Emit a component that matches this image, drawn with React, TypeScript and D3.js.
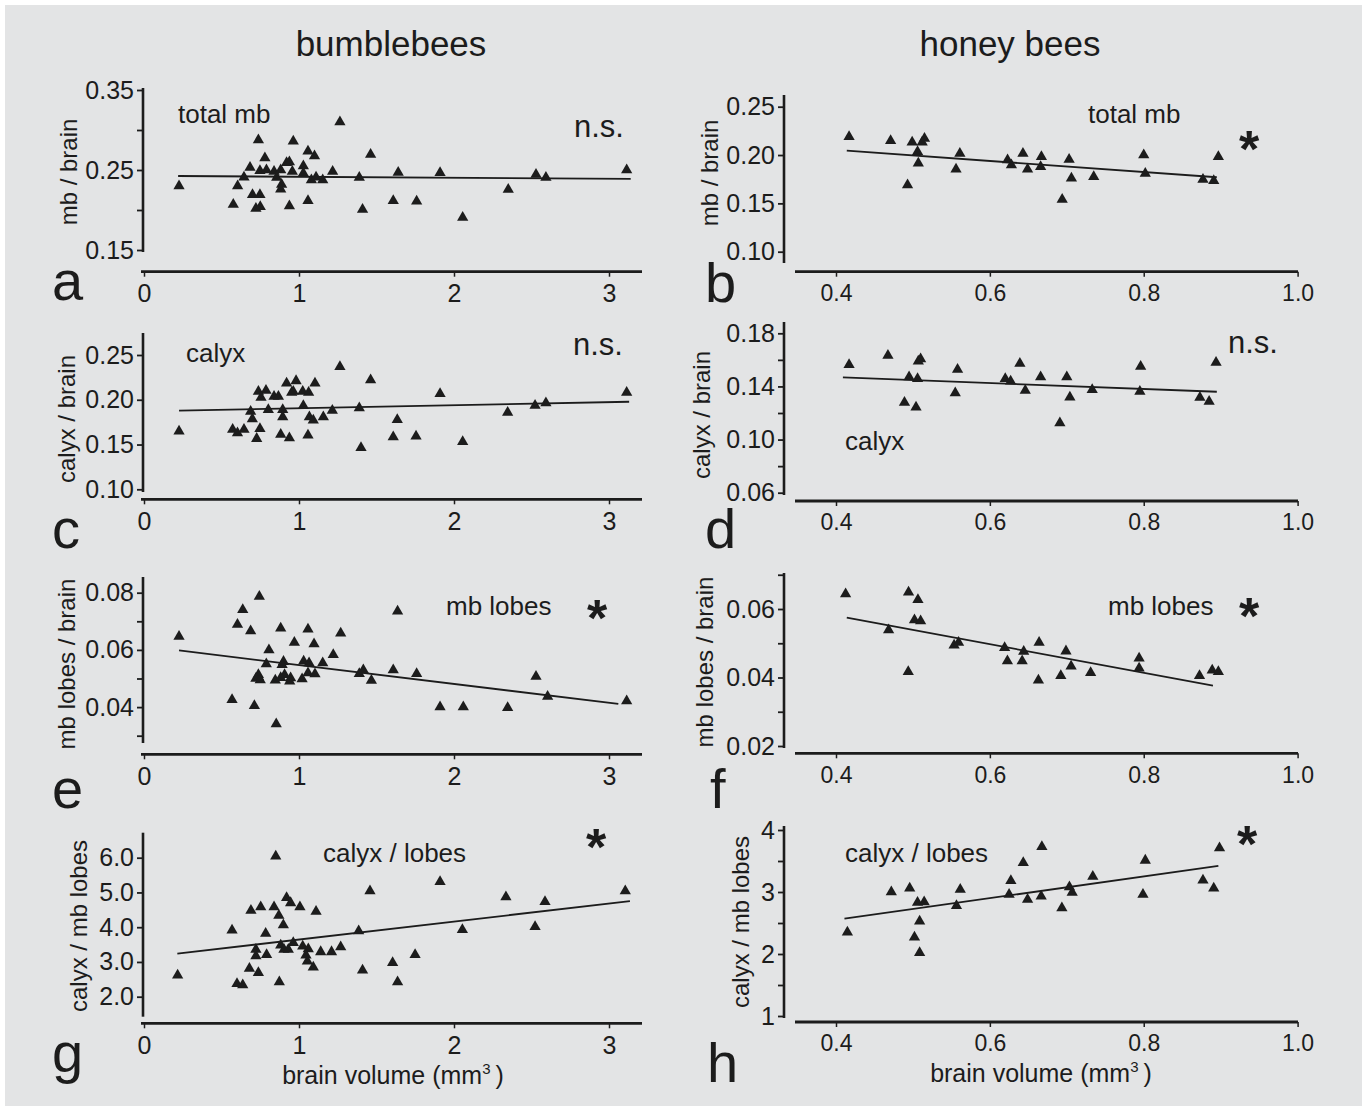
import { useEffect, useRef } from 'react';
import * as d3 from 'd3';

const W = 1367;
const H = 1111;
const BG = '#e3e4e5';
const INK = '#1c1c1c';
const FONT = '"Liberation Sans", Arial, Helvetica, sans-serif';

// bumblebees: [brain volume (mm3), ratio]
const bbTotalMb = [
    [0.226, 0.23], [0.576, 0.207], [0.604, 0.23], [0.645, 0.241], [0.684, 0.253], [0.738, 0.2875],
    [0.78, 0.265], [0.748, 0.249], [0.79, 0.25], [0.7, 0.219], [0.748, 0.219], [0.722, 0.202],
    [0.75, 0.204], [0.839, 0.248], [0.856, 0.2405], [0.882, 0.25], [0.888, 0.232], [0.882, 0.226],
    [0.92, 0.259], [0.938, 0.26], [0.957, 0.248], [0.963, 0.286], [0.938, 0.205], [1.028, 0.255],
    [1.028, 0.246], [1.058, 0.2735], [1.1, 0.2675], [1.08, 0.2375], [1.11, 0.241], [1.153, 0.2375],
    [1.058, 0.2115], [1.217, 0.248], [1.264, 0.31], [1.389, 0.2405], [1.41, 0.2005], [1.462, 0.2695],
    [1.608, 0.2115], [1.64, 0.247], [1.759, 0.211], [1.91, 0.2465], [2.056, 0.1905], [2.35, 0.2255],
    [2.529, 0.2445], [2.593, 0.2405], [3.114, 0.25]
];
const bbCalyx = [
    [0.226, 0.1648], [0.572, 0.1667], [0.603, 0.163], [0.645, 0.1667], [0.688, 0.187], [0.699, 0.1785],
    [0.748, 0.1677], [0.727, 0.1566], [0.738, 0.2092], [0.787, 0.2103], [0.755, 0.2026], [0.802, 0.1889],
    [0.839, 0.2037], [0.867, 0.2037], [0.882, 0.1611], [0.895, 0.1889], [0.895, 0.1807], [0.92, 0.2185],
    [0.938, 0.1574], [0.953, 0.2081], [0.981, 0.2211], [0.963, 0.2092], [1.024, 0.2092], [1.028, 0.1933],
    [1.062, 0.2081], [1.103, 0.2185], [1.067, 0.1807], [1.092, 0.177], [1.058, 0.1604], [1.157, 0.1807],
    [1.215, 0.1881], [1.264, 0.237], [1.389, 0.1907], [1.4, 0.1463], [1.462, 0.2222], [1.608, 0.1585],
    [1.634, 0.1778], [1.755, 0.1593], [1.91, 0.2066], [2.056, 0.153], [2.346, 0.1859], [2.523, 0.1937],
    [2.593, 0.1963], [3.114, 0.2081]
];
const bbLobes = [
    [0.226, 0.0647], [0.568, 0.0426], [0.603, 0.0689], [0.637, 0.074], [0.688, 0.0666], [0.744, 0.0787],
    [0.712, 0.0405], [0.738, 0.0513], [0.738, 0.0506], [0.722, 0.05], [0.75, 0.0495], [0.789, 0.0551],
    [0.806, 0.06], [0.847, 0.0494], [0.853, 0.0341], [0.882, 0.0676], [0.9, 0.0559], [0.891, 0.0548],
    [0.907, 0.0513], [0.882, 0.0503], [0.946, 0.0502], [0.94, 0.049], [0.97, 0.0626], [1.02, 0.0498],
    [1.03, 0.056], [1.065, 0.0554], [1.058, 0.0672], [1.097, 0.0621], [1.058, 0.0519], [1.103, 0.0516],
    [1.153, 0.0554], [1.221, 0.0583], [1.269, 0.0658], [1.389, 0.0517], [1.415, 0.053], [1.467, 0.0493],
    [1.608, 0.053], [1.636, 0.0735], [1.759, 0.0517], [1.91, 0.04], [2.06, 0.04], [2.346, 0.0398],
    [2.529, 0.0507], [2.604, 0.0437], [3.114, 0.0421]
];
const bbCalyxLobes = [
    [0.217, 2.62], [0.568, 3.91], [0.6, 2.37], [0.637, 2.34], [0.68, 2.81], [0.69, 4.48],
    [0.722, 3.36], [0.722, 3.17], [0.738, 2.69], [0.753, 4.58], [0.785, 3.82], [0.791, 3.21],
    [0.839, 4.58], [0.85, 6.04], [0.87, 4.34], [0.873, 2.42], [0.899, 4.06], [0.882, 3.48],
    [0.903, 3.36], [0.931, 3.36], [0.92, 4.85], [0.946, 4.7], [0.963, 3.55], [1.006, 4.58],
    [1.024, 3.45], [1.06, 3.37], [1.045, 3.19], [1.054, 3.02], [1.092, 2.85], [1.11, 4.45],
    [1.14, 3.29], [1.21, 3.29], [1.269, 3.43], [1.385, 3.89], [1.41, 2.76], [1.458, 5.04],
    [1.604, 2.98], [1.636, 2.42], [1.749, 3.21], [1.91, 5.31], [2.054, 3.93], [2.335, 4.87],
    [2.523, 4.01], [2.587, 4.73], [3.105, 5.04]
];

// honey bees: [brain volume (mm3), ratio]
const hbTotalMb = [
    [0.417, 0.219], [0.471, 0.2148], [0.493, 0.169], [0.499, 0.2132], [0.506, 0.2034], [0.507, 0.1914],
    [0.512, 0.2132], [0.515, 0.217], [0.556, 0.1852], [0.561, 0.2017], [0.623, 0.1948], [0.628, 0.1896],
    [0.643, 0.2017], [0.649, 0.1852], [0.667, 0.1983], [0.666, 0.1879], [0.694, 0.1541], [0.703, 0.1955],
    [0.706, 0.1759], [0.735, 0.1776], [0.8, 0.2], [0.802, 0.181], [0.877, 0.1748], [0.891, 0.1735],
    [0.897, 0.1983]
];
const hbCalyx = [
    [0.417, 0.1564], [0.4675, 0.1632], [0.489, 0.1279], [0.495, 0.1471], [0.504, 0.1244], [0.506, 0.1457],
    [0.507, 0.1589], [0.51, 0.1607], [0.555, 0.135], [0.558, 0.1527], [0.62, 0.1457], [0.627, 0.1439],
    [0.639, 0.1572], [0.646, 0.137], [0.666, 0.1471], [0.7, 0.1471], [0.704, 0.1319], [0.691, 0.1124],
    [0.733, 0.1375], [0.796, 0.155], [0.795, 0.1362], [0.873, 0.1317], [0.885, 0.1287], [0.894, 0.1581]
];
const hbLobes = [
    [0.4125, 0.0644], [0.4684, 0.0539], [0.4943, 0.0649], [0.5065, 0.0627], [0.4939, 0.0417], [0.502, 0.0568],
    [0.51, 0.0565], [0.5535, 0.0494], [0.5593, 0.0502], [0.6192, 0.0487], [0.6228, 0.0448], [0.642, 0.0448],
    [0.644, 0.0476], [0.664, 0.0502], [0.6631, 0.0392], [0.6922, 0.0405], [0.6989, 0.0477], [0.7056, 0.0433],
    [0.731, 0.0414], [0.794, 0.0456], [0.794, 0.0427], [0.8725, 0.0405], [0.889, 0.0421], [0.897, 0.0417]
];
const hbCalyxLobes = [
    [0.4148, 2.35], [0.4719, 3.0], [0.4958, 3.06], [0.506, 2.83], [0.5146, 2.84], [0.5087, 2.53],
    [0.502, 2.27], [0.5087, 2.02], [0.5566, 2.78], [0.5615, 3.04], [0.625, 2.96], [0.6273, 3.18],
    [0.6434, 3.47], [0.649, 2.88], [0.6667, 2.93], [0.6676, 3.73], [0.6936, 2.74], [0.7034, 3.08],
    [0.707, 2.99], [0.7338, 3.25], [0.802, 3.51], [0.799, 2.96], [0.877, 3.19], [0.891, 3.06],
    [0.8985, 3.71]
];

// regression lines as drawn: [start, end]
const bbTotalMbFit = [[0.22, 0.2425], [3.14, 0.2388]];
const bbCalyxFit = [[0.226, 0.1878], [3.13, 0.1978]];
const bbLobesFit = [[0.226, 0.0598], [3.06, 0.0411]];
const bbCalyxLobesFit = [[0.215, 3.24], [3.135, 4.75]];
const hbTotalMbFit = [[0.414, 0.2045], [0.895, 0.177]];
const hbCalyxFit = [[0.409, 0.1468], [0.895, 0.136]];
const hbLobesFit = [[0.414, 0.0575], [0.89, 0.0376]];
const hbCalyxLobesFit = [[0.411, 2.57], [0.897, 3.42]];

// tick values
const bbXTicks = [0, 1, 2, 3];
const hbXTicks = [0.4, 0.6, 0.8, 1.0];
const aTicks = [0.35, 0.3, 0.25, 0.2, 0.15];
const aLabels = [0.35, 0.25, 0.15];
const cTicks = [0.25, 0.2, 0.15, 0.1];
const eTicks = [0.08, 0.07, 0.06, 0.05, 0.04, 0.03];
const eLabels = [0.08, 0.06, 0.04];
const gTicks = [6, 5, 4, 3, 2];
const bTicks = [0.25, 0.2, 0.15, 0.1];
const dTicks = [0.18, 0.16, 0.14, 0.12, 0.1, 0.08, 0.06];
const dLabels = [0.18, 0.14, 0.1, 0.06];
const fTicks = [0.07, 0.06, 0.05, 0.04, 0.03, 0.02];
const fLabels = [0.06, 0.04, 0.02];
const hTicks = [4, 3.5, 3, 2.5, 2, 1.5, 1];
const hLabels = [4, 3, 2, 1];

const leftCol = {
    dom: [0, 3], rng: [144, 609], yAxisX: 143, lineFrom: 141, lineTo: 642,
    xTicks: bbXTicks, xFmt: d3.format('d'), xSize: 25, title: 'bumblebees', titleX: 391, volX: 393, volY: 1084
};
const rightCol = {
    dom: [0.4, 1.0], rng: [836, 1297.6], yAxisX: 784, lineFrom: 795, lineTo: 1298,
    xTicks: hbXTicks, xFmt: d3.format('.1f'), xSize: 23, title: 'honey bees', titleX: 1010, volX: 1041, volY: 1082
};

const f2 = d3.format('.2f');
const f1 = d3.format('.1f');
const f0 = d3.format('d');

const panels = [
    {
        col: leftCol, data: bbTotalMb, fit: bbTotalMbFit, yDom: [0.35, 0.15], yRng: [90, 250],
        ticks: aTicks, labels: aLabels, fmt: f2, top: 88, bottom: 252, xAxisY: 271.7,
        yLabel: 'mb / brain', labX: 68, labY: 172, letter: 'a', letX: 52, letY: 300,
        notes: [{ t: 'total mb', x: 178, y: 123, size: 26 }, { t: 'n.s.', x: 574, y: 137, size: 31 }]
    },
    {
        col: leftCol, data: bbCalyx, fit: bbCalyxFit, yDom: [0.25, 0.1], yRng: [355, 489.3],
        ticks: cTicks, labels: cTicks, fmt: f2, top: 333, bottom: 492, xAxisY: 499.3,
        yLabel: 'calyx / brain', labX: 66, labY: 419, letter: 'c', letX: 52, letY: 548,
        notes: [{ t: 'calyx', x: 186, y: 362, size: 26 }, { t: 'n.s.', x: 573, y: 355, size: 31 }]
    },
    {
        col: leftCol, data: bbLobes, fit: bbLobesFit, yDom: [0.08, 0.03], yRng: [592.7, 735.7],
        ticks: eTicks, labels: eLabels, fmt: f2, top: 577, bottom: 743, xAxisY: 754.3,
        yLabel: 'mb lobes / brain', labX: 66, labY: 664, letter: 'e', letX: 52, letY: 808,
        notes: [{ t: 'mb lobes', x: 446, y: 615, size: 26 }, { t: '*', x: 587, y: 636, size: 52, bold: true }]
    },
    {
        col: leftCol, data: bbCalyxLobes, fit: bbCalyxLobesFit, yDom: [6, 2], yRng: [857.7, 996.7],
        ticks: gTicks, labels: gTicks, fmt: f1, top: 832.7, bottom: 1016.7, xAxisY: 1023.3,
        yLabel: 'calyx / mb lobes', labX: 78, labY: 926, letter: 'g', letX: 52, letY: 1072,
        notes: [{ t: 'calyx / lobes', x: 323, y: 862, size: 26 }, { t: '*', x: 586, y: 865, size: 52, bold: true }]
    },
    {
        col: rightCol, data: hbTotalMb, fit: hbTotalMbFit, yDom: [0.25, 0.1], yRng: [106.7, 251.7],
        ticks: bTicks, labels: bTicks, fmt: f2, top: 95, bottom: 263, xAxisY: 271.7,
        yLabel: 'mb / brain', labX: 709, labY: 173, letter: 'b', letX: 705, letY: 302,
        notes: [{ t: 'total mb', x: 1088, y: 123, size: 26 }, { t: '*', x: 1239, y: 167, size: 52, bold: true }]
    },
    {
        col: rightCol, data: hbCalyx, fit: hbCalyxFit, yDom: [0.18, 0.06], yRng: [333.3, 492.7],
        ticks: dTicks, labels: dLabels, fmt: f2, top: 322, bottom: 495, xAxisY: 501,
        yLabel: 'calyx / brain', labX: 701, labY: 415, letter: 'd', letX: 705, letY: 548,
        notes: [{ t: 'calyx', x: 845, y: 450, size: 26 }, { t: 'n.s.', x: 1228, y: 353, size: 31 }]
    },
    {
        col: rightCol, data: hbLobes, fit: hbLobesFit, yDom: [0.06, 0.02], yRng: [609, 746],
        ticks: fTicks, labels: fLabels, fmt: f2, top: 573, bottom: 748, xAxisY: 753.3,
        yLabel: 'mb lobes / brain', labX: 704, labY: 662, letter: 'f', letX: 710, letY: 808,
        notes: [{ t: 'mb lobes', x: 1108, y: 615, size: 26 }, { t: '*', x: 1239, y: 634, size: 52, bold: true }]
    },
    {
        col: rightCol, data: hbCalyxLobes, fit: hbCalyxLobesFit, yDom: [4, 1], yRng: [830, 1016],
        ticks: hTicks, labels: hLabels, fmt: f0, top: 826, bottom: 1018, xAxisY: 1022,
        yLabel: 'calyx / mb lobes', labX: 740, labY: 922, letter: 'h', letX: 707, letY: 1082,
        notes: [{ t: 'calyx / lobes', x: 845, y: 862, size: 26 }, { t: '*', x: 1237, y: 862, size: 52, bold: true }]
    }
];

const App = () => {
    const svgRef = useRef<SVGSVGElement>(null);

    useEffect(() => {
        const svg = d3.select(svgRef.current);
        svg.selectAll('*').remove();

        svg.append('rect').attr('width', W).attr('height', H).attr('fill', '#fff');
        svg.append('rect').attr('x', 5).attr('y', 5).attr('width', W - 10).attr('height', H - 10).attr('fill', BG);

        // column titles and x titles
        [leftCol, rightCol].forEach(c => {
            svg.append('text')
                .attr('x', c.titleX).attr('y', 56)
                .attr('text-anchor', 'middle')
                .attr('font-size', 35)
                .attr('fill', INK)
                .text(c.title);

            const t = svg.append('text')
                .attr('x', c.volX).attr('y', c.volY)
                .attr('text-anchor', 'middle')
                .attr('font-size', 25)
                .attr('fill', INK);
            t.append('tspan').text('brain volume (mm');
            t.append('tspan').attr('font-size', 15).attr('dy', -10).text('3');
            t.append('tspan').attr('dy', 10).text('\u2009)');
        });

        panels.forEach(p => {
            const c = p.col;
            const x = d3.scaleLinear().domain(c.dom).range(c.rng);
            const y = d3.scaleLinear().domain(p.yDom).range(p.yRng);
            const g = svg.append('g');

            // y axis
            const ya = g.append('g')
                .attr('transform', `translate(${c.yAxisX},0)`)
                .call(d3.axisLeft(y)
                    .tickValues(p.ticks)
                    .tickSize(6)
                    .tickPadding(3)
                    .tickFormat(d => (p.labels.includes(d as number) ? p.fmt(d as number) : '')));
            ya.select('.domain').remove();
            ya.append('line')
                .attr('y1', p.top).attr('y2', p.bottom)
                .attr('stroke', INK).attr('stroke-width', 2.6);
            ya.selectAll('.tick line').attr('stroke', INK).attr('stroke-width', 1.8);
            ya.selectAll('.tick text')
                .attr('fill', INK)
                .attr('font-size', 25)
                .attr('font-family', FONT);

            // x axis
            const xa = g.append('g')
                .attr('transform', `translate(0,${p.xAxisY})`)
                .call(d3.axisBottom(x)
                    .tickValues(c.xTicks)
                    .tickSize(5)
                    .tickPadding(8)
                    .tickFormat(d => c.xFmt(d as number)));
            xa.select('.domain').remove();
            xa.append('line')
                .attr('x1', c.lineFrom).attr('x2', c.lineTo)
                .attr('stroke', INK).attr('stroke-width', 2.8);
            xa.selectAll('.tick line').attr('stroke', INK).attr('stroke-width', 1.5);
            xa.selectAll('.tick text')
                .attr('fill', INK)
                .attr('font-size', c.xSize)
                .attr('font-family', FONT);

            // regression line
            g.append('path')
                .attr('d', d3.line()(p.fit.map(d => [x(d[0]), y(d[1])] as [number, number])))
                .attr('fill', 'none')
                .attr('stroke', INK)
                .attr('stroke-width', 1.8);

            // points
            g.selectAll('path.pt')
                .data(p.data)
                .join('path')
                .attr('class', 'pt')
                .attr('d', d3.symbol(d3.symbolTriangle, 55)())
                .attr('transform', d => `translate(${x(d[0])},${y(d[1])})`)
                .attr('fill', INK);

            // y label
            g.append('text')
                .attr('transform', `translate(${p.labX},${p.labY}) rotate(-90)`)
                .attr('text-anchor', 'middle')
                .attr('dominant-baseline', 'central')
                .attr('font-size', 24)
                .attr('fill', INK)
                .text(p.yLabel);

            // panel letter
            g.append('text')
                .attr('x', p.letX).attr('y', p.letY)
                .attr('font-size', 56)
                .attr('fill', INK)
                .text(p.letter);

            // annotations
            p.notes.forEach(n => {
                g.append('text')
                    .attr('x', n.x).attr('y', n.y)
                    .attr('font-size', n.size)
                    .attr('font-weight', n.bold ? 'bold' : 'normal')
                    .attr('fill', INK)
                    .text(n.t);
            });
        });
    }, []);

    return (
        <div style={{ position: 'absolute', left: 0, top: 0 }}>
            <svg ref={svgRef} width={W} height={H} style={{ display: 'block', fontFamily: FONT }} />
        </div>
    );
};

export default App;
